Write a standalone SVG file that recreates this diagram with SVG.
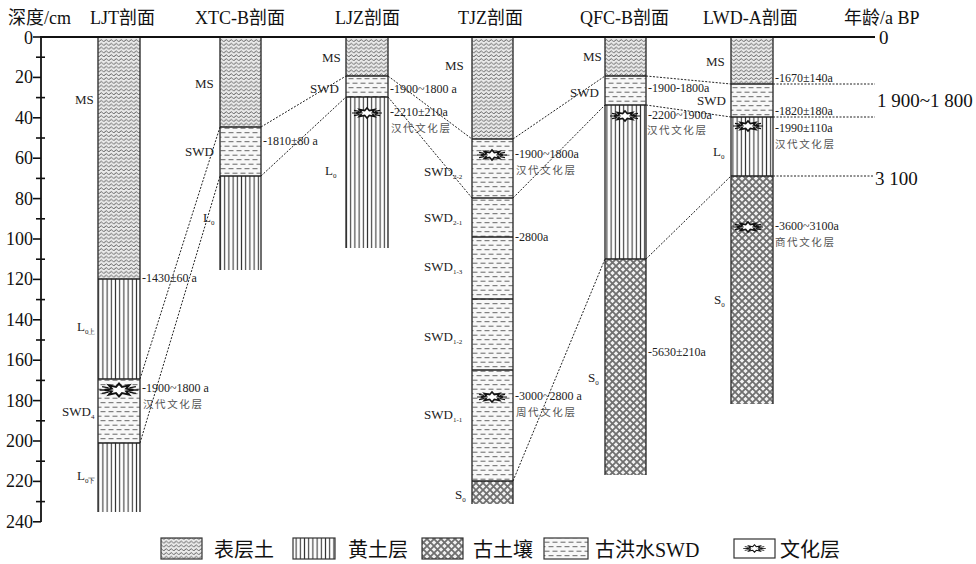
<svg xmlns="http://www.w3.org/2000/svg" xmlns:xlink="http://www.w3.org/1999/xlink" width="976" height="564" viewBox="0 0 976 564">
  <style>
    .hd { font-family: "Liberation Serif", "Noto Sans CJK SC", serif; font-size: 18px; fill: #111; }
    .ax { font-family: "Liberation Serif", serif; font-size: 18px; fill: #111; text-anchor: end; }
    .big { font-family: "Liberation Serif", serif; font-size: 19px; fill: #111; }
    .lb { font-family: "Liberation Serif", serif; font-size: 13px; fill: #222; }
    .sub { font-size: 7px; }
    .dt { font-family: "Liberation Serif", serif; font-size: 12px; fill: #222; }
    .cn { font-family: "Noto Sans CJK SC", sans-serif; font-size: 10.5px; fill: #555; letter-spacing: 1.6px; }
    .lg { font-family: "Noto Sans CJK SC", "Liberation Serif", sans-serif; font-size: 20px; fill: #111; }
    .lgl { font-family: "Liberation Serif", serif; font-size: 20px; fill: #111; }
    .edge { stroke: #333; stroke-width: 1.4; fill: none; }
    .bd { stroke: #222; stroke-width: 1.3; fill: none; }
    .cor { stroke: #222; stroke-width: 1; stroke-dasharray: 2 1.5; fill: none; }
    .tick { stroke: #111; stroke-width: 1.6; }
  </style>
  <defs>
    <!-- surface soil: wavy rows -->
    <pattern id="pMS" width="5" height="3.8" patternUnits="userSpaceOnUse">
      <rect width="5" height="3.8" fill="#eaeaea"/>
      <path d="M0 2.6 Q1.25 0.6 2.5 2.6 T5 2.6" fill="none" stroke="#505050" stroke-width="0.95"/>
    </pattern>
    <!-- loess: vertical lines -->
    <pattern id="pL" width="4.2" height="10" patternUnits="userSpaceOnUse">
      <rect width="4.2" height="10" fill="#fff"/>
      <line x1="2.1" y1="0" x2="2.1" y2="10" stroke="#333" stroke-width="1.1"/>
    </pattern>
    <!-- paleosol: diamond cross-hatch -->
    <pattern id="pS" width="7" height="7" patternUnits="userSpaceOnUse">
      <rect width="7" height="7" fill="#f2f2f2"/>
      <path d="M-1 -1 L8 8 M8 -1 L-1 8" stroke="#707070" stroke-width="1.8"/>
    </pattern>
    <!-- slackwater deposit: staggered dashes -->
    <pattern id="pW" width="8" height="9" patternUnits="userSpaceOnUse">
      <rect width="8" height="9" fill="#f8f8f8"/>
      <path d="M0.5 2.2 h5 M4.5 6.7 h3.5 M0 6.7 h1.5" stroke="#555" stroke-width="0.9"/>
    </pattern>
    <!-- cultural layer burst -->
    <g id="cult">
      <path d="M-15 0 H-10 M10 0 H15 M-13 -2.6 L-8 -1.6 M-13 2.6 L-8 1.6 M13 -2.6 L8 -1.6 M13 2.6 L8 1.6" stroke="#111" stroke-width="1.1"/>
      <polygon points="11,0 5.54,0.99 7.78,3.54 2.3,2.4 0,5 -2.3,2.4 -7.78,3.54 -5.54,0.99 -11,0 -5.54,-0.99 -7.78,-3.54 -2.3,-2.4 0,-5 2.3,-2.4 7.78,-3.54 5.54,-0.99" fill="#fff" stroke="#111" stroke-width="1.5" stroke-linejoin="miter"/>
    </g>
  </defs>

  <!-- headers -->
  <g id="headers">
    <text class="hd" x="8" y="24">深度/cm</text>
    <text class="hd" x="90" y="24">LJT剖面</text>
    <text class="hd" x="195" y="24">XTC-B剖面</text>
    <text class="hd" x="335" y="24">LJZ剖面</text>
    <text class="hd" x="458" y="24">TJZ剖面</text>
    <text class="hd" x="580" y="24">QFC-B剖面</text>
    <text class="hd" x="703" y="24">LWD-A剖面</text>
    <text class="hd" x="844" y="24">年龄/a BP</text>
  </g>

  <!-- depth axis -->
  <g id="axis">
    <line x1="41" y1="37" x2="41" y2="522" stroke="#111" stroke-width="1.8"/>
    <g class="tick">
      <line x1="33" y1="37" x2="41" y2="37"/><line x1="36" y1="57.2" x2="45" y2="57.2"/>
      <line x1="33" y1="77.4" x2="41" y2="77.4"/><line x1="36" y1="97.6" x2="45" y2="97.6"/>
      <line x1="33" y1="117.8" x2="41" y2="117.8"/><line x1="36" y1="138" x2="45" y2="138"/>
      <line x1="33" y1="158.2" x2="41" y2="158.2"/><line x1="36" y1="178.4" x2="45" y2="178.4"/>
      <line x1="33" y1="198.6" x2="41" y2="198.6"/><line x1="36" y1="218.8" x2="45" y2="218.8"/>
      <line x1="33" y1="239" x2="41" y2="239"/><line x1="36" y1="259.2" x2="45" y2="259.2"/>
      <line x1="33" y1="279.4" x2="41" y2="279.4"/><line x1="36" y1="299.6" x2="45" y2="299.6"/>
      <line x1="33" y1="319.8" x2="41" y2="319.8"/><line x1="36" y1="340" x2="45" y2="340"/>
      <line x1="33" y1="360.2" x2="41" y2="360.2"/><line x1="36" y1="380.4" x2="45" y2="380.4"/>
      <line x1="33" y1="400.6" x2="41" y2="400.6"/><line x1="36" y1="420.8" x2="45" y2="420.8"/>
      <line x1="33" y1="441" x2="41" y2="441"/><line x1="36" y1="461.2" x2="45" y2="461.2"/>
      <line x1="33" y1="481.4" x2="41" y2="481.4"/><line x1="36" y1="501.6" x2="45" y2="501.6"/>
      <line x1="33" y1="521.8" x2="41" y2="521.8"/>
    </g>
    <text class="ax" x="33" y="43.5">0</text>
    <text class="ax" x="33" y="83.4">20</text>
    <text class="ax" x="33" y="123.8">40</text>
    <text class="ax" x="33" y="164.2">60</text>
    <text class="ax" x="33" y="204.6">80</text>
    <text class="ax" x="33" y="245">100</text>
    <text class="ax" x="33" y="285.4">120</text>
    <text class="ax" x="33" y="325.8">140</text>
    <text class="ax" x="33" y="366.2">160</text>
    <text class="ax" x="33" y="406.6">180</text>
    <text class="ax" x="33" y="447">200</text>
    <text class="ax" x="33" y="487.4">220</text>
    <text class="ax" x="33" y="527.8">240</text>
  </g>

  <!-- LJT section -->
  <g id="LJT">
    <rect x="98" y="37" width="42" height="242" fill="url(#pMS)"/>
    <rect x="98" y="279" width="42" height="100" fill="url(#pL)"/>
    <rect x="98" y="379" width="42" height="64" fill="url(#pW)"/>
    <rect x="98" y="443" width="42" height="69" fill="url(#pL)"/>
    <path class="edge" d="M98 37 V512 M140 37 V512"/>
    <path class="bd" d="M98 279 H140 M98 379 H140 M98 443 H140"/>
    <use xlink:href="#cult" transform="translate(119,390) scale(1.3)"/>
    <text class="lb" x="75" y="104">MS</text>
    <text class="lb" x="77" y="331">L<tspan class="sub" dy="3">0上</tspan></text>
    <text class="lb" x="62" y="416">SWD<tspan class="sub" dy="3">4</tspan></text>
    <text class="lb" x="77" y="480">L<tspan class="sub" dy="3">0下</tspan></text>
    <text class="dt" x="142" y="282">-1430±60 a</text>
    <text class="dt" x="142" y="392">-1900~1800 a</text>
    <text class="cn" x="143" y="408">汉代文化层</text>
  </g>

  <!-- XTC-B section -->
  <g id="XTC-B">
    <rect x="220" y="37" width="41" height="90" fill="url(#pMS)"/>
    <rect x="220" y="127" width="41" height="49" fill="url(#pW)"/>
    <rect x="220" y="176" width="41" height="94" fill="url(#pL)"/>
    <path class="edge" d="M220 37 V270 M261 37 V270"/>
    <path class="bd" d="M220 127 H261 M220 176 H261"/>
    <text class="lb" x="195" y="88">MS</text>
    <text class="lb" x="185" y="156">SWD</text>
    <text class="lb" x="203" y="222">L<tspan class="sub" dy="3">0</tspan></text>
    <text class="dt" x="263" y="145">-1810±80 a</text>
  </g>

  <!-- LJZ section -->
  <g id="LJZ">
    <rect x="346" y="37" width="42" height="39" fill="url(#pMS)"/>
    <rect x="346" y="76" width="42" height="21" fill="url(#pW)"/>
    <rect x="346" y="97" width="42" height="151" fill="url(#pL)"/>
    <path class="edge" d="M346 37 V248 M388 37 V248"/>
    <path class="bd" d="M346 76 H388 M346 97 H388"/>
    <use xlink:href="#cult" transform="translate(367,113)"/>
    <text class="lb" x="322" y="62">MS</text>
    <text class="lb" x="310" y="93">SWD</text>
    <text class="lb" x="325" y="175">L<tspan class="sub" dy="3">0</tspan></text>
    <text class="dt" x="390" y="93">-1900~1800 a</text>
    <text class="dt" x="390" y="116">-2210±210a</text>
    <text class="cn" x="391" y="132">汉代文化层</text>
  </g>

  <!-- TJZ section -->
  <g id="TJZ">
    <rect x="472" y="37" width="41" height="102" fill="url(#pMS)"/>
    <rect x="472" y="139" width="41" height="342" fill="url(#pW)"/>
    <rect x="472" y="481" width="41" height="23" fill="url(#pS)"/>
    <path class="edge" d="M472 37 V504 M513 37 V504"/>
    <path class="bd" d="M472 139 H513 M472 198 H513 M472 237 H513 M472 299 H513 M472 370 H513 M472 481 H513"/>
    <use xlink:href="#cult" transform="translate(492,155)"/>
    <use xlink:href="#cult" transform="translate(492,397)"/>
    <text class="lb" x="445" y="70">MS</text>
    <text class="lb" x="424" y="176">SWD<tspan class="sub" dy="3">2-2</tspan></text>
    <text class="lb" x="424" y="222">SWD<tspan class="sub" dy="3">2-1</tspan></text>
    <text class="lb" x="424" y="271">SWD<tspan class="sub" dy="3">1-3</tspan></text>
    <text class="lb" x="424" y="341">SWD<tspan class="sub" dy="3">1-2</tspan></text>
    <text class="lb" x="424" y="419">SWD<tspan class="sub" dy="3">1-1</tspan></text>
    <text class="lb" x="455" y="499">S<tspan class="sub" dy="3">0</tspan></text>
    <text class="dt" x="515" y="158">-1900~1800a</text>
    <text class="cn" x="516" y="174">汉代文化层</text>
    <text class="dt" x="515" y="241">-2800a</text>
    <text class="dt" x="515" y="400">-3000~2800 a</text>
    <text class="cn" x="516" y="416">周代文化层</text>
  </g>

  <!-- QFC-B section -->
  <g id="QFC-B">
    <rect x="605" y="37" width="41" height="39" fill="url(#pMS)"/>
    <rect x="605" y="76" width="41" height="29" fill="url(#pW)"/>
    <rect x="605" y="105" width="41" height="154" fill="url(#pL)"/>
    <rect x="605" y="259" width="41" height="216" fill="url(#pS)"/>
    <path class="edge" d="M605 37 V475 M646 37 V475"/>
    <path class="bd" d="M605 76 H646 M605 105 H646 M605 259 H646"/>
    <use xlink:href="#cult" transform="translate(625,116)"/>
    <text class="lb" x="583" y="61">MS</text>
    <text class="lb" x="570" y="97">SWD</text>
    <text class="lb" x="588" y="382">S<tspan class="sub" dy="3">0</tspan></text>
    <text class="dt" x="648" y="92">-1900-1800a</text>
    <text class="dt" x="648" y="119">-2200~1900a</text>
    <text class="cn" x="647" y="134">汉代文化层</text>
    <text class="dt" x="648" y="356">-5630±210a</text>
  </g>

  <!-- LWD-A section -->
  <g id="LWD-A">
    <rect x="731" y="37" width="42" height="47" fill="url(#pMS)"/>
    <rect x="731" y="84" width="42" height="33" fill="url(#pW)"/>
    <rect x="731" y="117" width="42" height="59" fill="url(#pL)"/>
    <rect x="731" y="176" width="42" height="228" fill="url(#pS)"/>
    <path class="edge" d="M731 37 V404 M773 37 V404"/>
    <path class="bd" d="M731 84 H773 M731 117 H773 M731 176 H773"/>
    <use xlink:href="#cult" transform="translate(748,126)"/>
    <use xlink:href="#cult" transform="translate(748,227)"/>
    <text class="lb" x="706" y="66">MS</text>
    <text class="lb" x="697" y="105">SWD</text>
    <text class="lb" x="713" y="156">L<tspan class="sub" dy="3">0</tspan></text>
    <text class="lb" x="714" y="304">S<tspan class="sub" dy="3">0</tspan></text>
    <text class="dt" x="775" y="82">-1670±140a</text>
    <text class="dt" x="775" y="115">-1820±180a</text>
    <text class="dt" x="775" y="132">-1990±110a</text>
    <text class="cn" x="775" y="148">汉代文化层</text>
    <text class="dt" x="775" y="230">-3600~3100a</text>
    <text class="cn" x="775" y="246">商代文化层</text>
  </g>

  <!-- top line and age scale -->
  <g id="age-scale">
    <line x1="40" y1="37" x2="875" y2="37" stroke="#111" stroke-width="2.2"/>
    <text class="big" x="879" y="44">0</text>
    <text class="big" x="877" y="107">1 900~1 800</text>
    <text class="big" x="875" y="185">3 100</text>
  </g>

  <!-- correlation lines -->
  <g id="connectors" class="cor">
    <line x1="140" y1="379" x2="220" y2="127"/>
    <line x1="140" y1="443" x2="220" y2="176"/>
    <line x1="261" y1="127" x2="346" y2="76"/>
    <line x1="261" y1="176" x2="346" y2="97"/>
    <line x1="388" y1="76" x2="472" y2="139"/>
    <line x1="388" y1="97" x2="472" y2="198"/>
    <line x1="513" y1="139" x2="605" y2="76"/>
    <line x1="513" y1="198" x2="605" y2="105"/>
    <line x1="513" y1="481" x2="605" y2="259"/>
    <line x1="646" y1="76" x2="731" y2="84"/>
    <line x1="646" y1="105" x2="731" y2="117"/>
    <line x1="646" y1="259" x2="731" y2="176"/>
    <line x1="773" y1="84" x2="875" y2="84"/>
    <line x1="773" y1="117" x2="875" y2="117"/>
    <line x1="773" y1="176" x2="873" y2="176"/>
  </g>

  <!-- legend -->
  <g id="legend">
    <rect x="161" y="538" width="41" height="21" fill="url(#pMS)" stroke="#333" stroke-width="1.2"/>
    <text class="lg" x="214" y="557">表层土</text>
    <rect x="293" y="538" width="42" height="21" fill="url(#pL)" stroke="#333" stroke-width="1.2"/>
    <text class="lg" x="348" y="557">黄土层</text>
    <rect x="422" y="538" width="41" height="21" fill="url(#pS)" stroke="#333" stroke-width="1.2"/>
    <text class="lg" x="473" y="557">古土壤</text>
    <rect x="544" y="538" width="44" height="21" fill="url(#pW)" stroke="#333" stroke-width="1.2"/>
    <text class="lg" x="595" y="557">古洪水<tspan class="lgl">SWD</tspan></text>
    <rect x="734" y="539" width="41" height="19" fill="#fff" stroke="#333" stroke-width="1.2"/>
    <use xlink:href="#cult" transform="translate(754.5,548.5) scale(0.75)"/>
    <text class="lg" x="780" y="557">文化层</text>
  </g>
</svg>
